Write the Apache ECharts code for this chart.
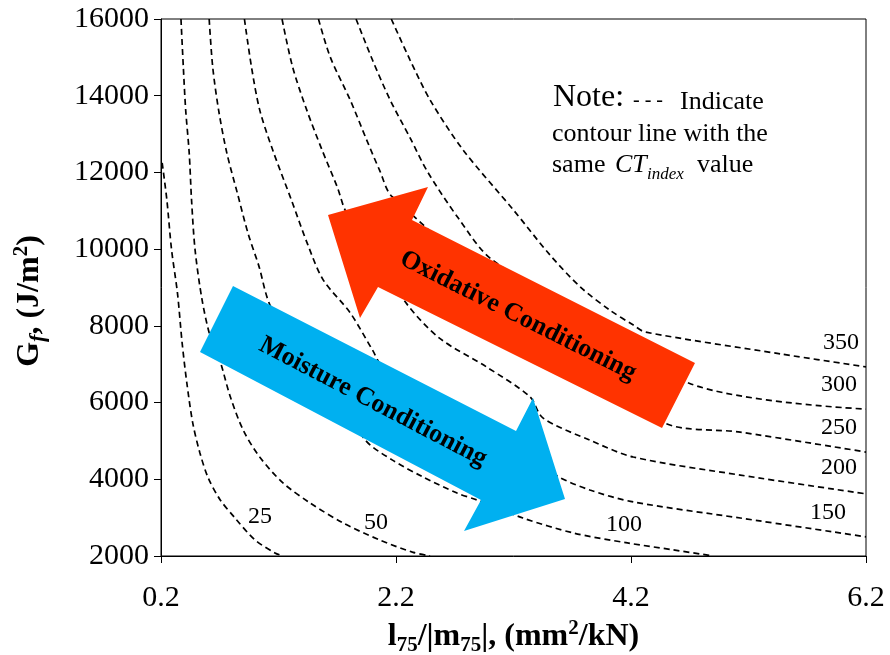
<!DOCTYPE html>
<html>
<head>
<meta charset="utf-8">
<script src="https://cdn.jsdelivr.net/npm/echarts@6/dist/echarts.min.js"></script>
<style>
html,body{margin:0;padding:0;background:#fff;}
#c{width:890px;height:655px;}
</style>
</head>
<body>
<div id="c"></div>
<script>
// ---- data ----
const xTicks = [0.2, 2.2, 4.2, 6.2];
const yTicks = [2000, 4000, 6000, 8000, 10000, 12000, 14000, 16000];
const ctLabels = ['25', '50', '100', '150', '200', '250', '300', '350'];

const ct25 = [[0.21,12250],[0.25,11280],[0.29,9980],[0.34,8860],[0.38,7550],[0.42,6510],[0.47,5470],[0.53,4700],[0.60,4050],[0.70,3480],[0.83,2990],[1.00,2420],[1.17,2080],[1.24,2000]];
const ct50 = [[0.37,16000],[0.39,14750],[0.41,13630],[0.44,12510],[0.46,11280],[0.49,9980],[0.55,8670],[0.62,7710],[0.70,7110],[0.79,6150],[0.90,5280],[1.04,4580],[1.24,3900],[1.47,3380],[1.75,2860],[2.06,2420],[2.34,2100],[2.49,2000]];
const ct100 = [[0.61,16000],[0.64,14750],[0.69,13630],[0.76,12510],[0.85,11460],[0.94,10420],[1.03,9590],[1.15,8410],[1.94,5020],[2.17,4500],[2.43,4060],[2.72,3640],[2.89,3460],[3.28,2990],[3.71,2600],[4.17,2340],[4.56,2160],[4.90,2000]];
const ct150 = [[0.91,16000],[0.97,14750],[1.04,13630],[1.15,12590],[1.31,11280],[1.45,10110],[1.58,9200],[1.81,8340],[2.00,7370],[2.09,6930],[3.57,4090],[3.85,3720],[4.22,3410],[5.13,2990],[6.2,2500]];
const ct200 = [[1.23,16000],[1.32,14750],[1.44,13630],[1.57,12590],[1.70,11620],[1.78,10940],[2.28,8620],[2.57,7680],[2.97,6930],[3.34,6150],[3.45,5600],[3.85,5020],[4.22,4580],[5.13,4110],[6.2,3620]];
const ct250 = [[1.54,16000],[1.64,15010],[1.81,13890],[1.95,12850],[2.06,12060],[2.17,11360],[4.47,5490],[5.13,5230],[6.2,4710]];
const ct300 = [[1.86,16000],[2.00,14930],[2.15,13890],[2.32,12900],[2.47,12010],[2.73,10810],[3.02,9720],[4.69,6510],[6.2,5830]];
const ct350 = [[2.16,16000],[2.32,14930],[2.49,13890],[2.77,12590],[3.20,11020],[3.51,9850],[3.77,9010],[4.02,8410],[4.22,8020],[4.32,7840],[5.47,7270],[6.2,6930]];

const curves = [ct25, ct50, ct100, ct150, ct200, ct250, ct300, ct350];

// ---- chart ----
const FONT = '"Liberation Serif","Times New Roman",serif';
const chart = echarts.init(document.getElementById('c'), null, {renderer: 'canvas'});

const series = curves.map((d, i) => ({
  name: ctLabels[i],
  type: 'line',
  data: d,
  symbol: 'none',
  smooth: 0.3,
  silent: true,
  z: 2,
  lineStyle: {color: '#000', width: 1.7, type: [6, 4]}
}));

// annotation positions (pixels)
const labelPos = [[260,517],[376,523],[624,525],[828,513],[839,468],[839,428],[839,385],[841,343]];

const graphics = [];
graphics.push({
  type: 'polygon', z: 100,
  shape: {points: [[233,286],[516,431],[533,398],[565,499],[464,531],[481,500],[200,352]]},
  style: {fill: '#00B0F0', stroke: null}
});
graphics.push({
  type: 'polygon', z: 100,
  shape: {points: [[328,215],[428,187],[412,220],[695,363],[662,428],[378,287],[360,318]]},
  style: {fill: '#FF3300', stroke: null}
});
graphics.push({
  type: 'text', z: 101, x: 373, y: 402, rotation: -0.4808,
  style: {text: 'Moisture Conditioning', font: 'bold 26px ' + FONT, fill: '#000', align: 'center', verticalAlign: 'middle'}
});
graphics.push({
  type: 'text', z: 101, x: 518, y: 316, rotation: -0.4652,
  style: {text: 'Oxidative Conditioning', font: 'bold 26px ' + FONT, fill: '#000', align: 'center', verticalAlign: 'middle'}
});
ctLabels.forEach((t, i) => {
  graphics.push({
    type: 'text', z: 50, x: labelPos[i][0], y: labelPos[i][1],
    style: {text: t, font: '24px ' + FONT, fill: '#000', align: 'center', verticalAlign: 'middle'}
  });
});
// note text
const noteItems = [
  ['Note:', '32px', 553, 98],
  ['- - -', '20px', 633, 101],
  ['Indicate', '26px', 680, 102],
  ['contour line with the', '26px', 552, 134],
  ['same', '26px', 552, 165],
  ['value', '26px', 697, 165]
];
noteItems.forEach(n => graphics.push({
  type: 'text', z: 50, x: n[2], y: n[3],
  style: {text: n[0], font: n[1] + ' ' + FONT, fill: '#000', align: 'left', verticalAlign: 'middle'}
}));
graphics.push({type: 'text', z: 50, x: 615, y: 165,
  style: {text: 'CT', font: 'italic 26px ' + FONT, fill: '#000', align: 'left', verticalAlign: 'middle'}});
graphics.push({type: 'text', z: 50, x: 647, y: 175,
  style: {text: 'index', font: 'italic 17px ' + FONT, fill: '#000', align: 'left', verticalAlign: 'middle'}});

const richTitle = {
  b: {fontSize: 32, fontWeight: 'bold', fontFamily: FONT, color: '#000', lineHeight: 38},
  s: {fontSize: 21, fontWeight: 'bold', fontFamily: FONT, color: '#000', lineHeight: 21, verticalAlign: 'bottom'},
  fs: {fontSize: 22, fontWeight: 'bold', fontStyle: 'italic', fontFamily: FONT, color: '#000', lineHeight: 21, verticalAlign: 'bottom'},
  p: {fontSize: 21, fontWeight: 'bold', fontFamily: FONT, color: '#000', lineHeight: 21, verticalAlign: 'top'}
};

// y-axis title as rotated rich text
graphics.push({
  type: 'text', z: 50, x: 30, y: 301, rotation: Math.PI / 2,
  style: {text: '{b|G}{fs|f}{b|, (J/m}{p|2}{b|)}', rich: richTitle, align: 'center', verticalAlign: 'middle'}
});

chart.setOption({
  animation: false,
  backgroundColor: '#fff',
  grid: {left: 161, right: 24, top: 19, bottom: 99, show: true, borderColor: '#000', borderWidth: 1,
         containLabel: false, outerBoundsMode: 'none'},
  xAxis: {
    type: 'value', min: 0.2, max: 6.2,
    axisLine: {show: true, onZero: false, lineStyle: {color: '#000', width: 1}},
    axisTick: {show: true, customValues: xTicks, length: 7, lineStyle: {color: '#000'}},
    axisLabel: {customValues: xTicks, formatter: v => Number(v).toFixed(1), fontSize: 30, fontFamily: FONT, color: '#000', margin: 27},
    splitLine: {show: false},
    name: '{b|l}{s|75}{b|/|m}{s|75}{b||, (mm}{p|2}{b|/kN)}',
    nameLocation: 'middle', nameGap: 59,
    nameTextStyle: {rich: richTitle}
  },
  yAxis: {
    type: 'value', min: 2000, max: 16000, interval: 2000,
    axisLine: {show: true, lineStyle: {color: '#000', width: 1}},
    axisTick: {show: true, length: 7, lineStyle: {color: '#000'}},
    axisLabel: {formatter: v => String(v), fontSize: 30, fontFamily: FONT, color: '#000', margin: 12},
    splitLine: {show: false}
  },
  series: series,
  graphic: graphics
});
</script>
</body>
</html>
